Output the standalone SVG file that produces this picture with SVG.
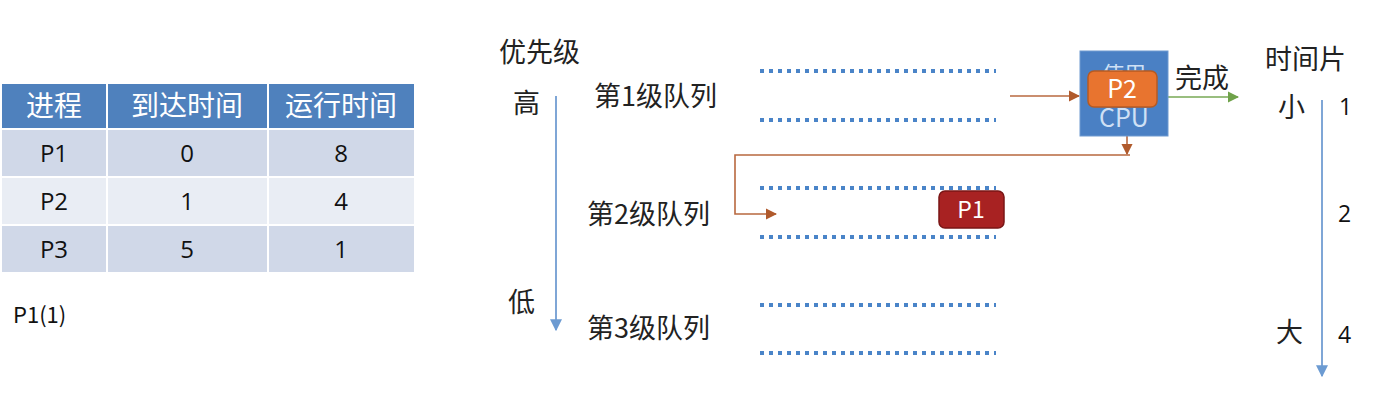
<svg xmlns="http://www.w3.org/2000/svg" width="1381" height="400" viewBox="0 0 1381 400">
<style>
text{font-family:"Noto Sans CJK SC","Liberation Sans",sans-serif;}
.hd{fill:#fff;font-size:28px;text-anchor:middle;}
.cell{fill:#111;font-size:24px;text-anchor:middle;font-family:"Open Sans","Liberation Sans",sans-serif;}
.lbl{fill:#222;font-size:27px;}
.num{fill:#111;font-size:23px;font-family:"Open Sans","Liberation Sans",sans-serif;}
.dot{stroke:#4A84C8;stroke-width:4;stroke-dasharray:4 5;fill:none;}
.axis{stroke:#7FA6D6;stroke-width:2;fill:none;}
.br{stroke:#B8683F;stroke-width:1.6;fill:none;}
</style>
<defs>
<marker id="ab" viewBox="0 0 10 10" refX="9" refY="5" markerWidth="6" markerHeight="6" orient="auto"><path d="M0,0L10,5L0,10z" fill="#6C9BD2"/></marker>
<marker id="ar" viewBox="0 0 10 10" refX="9" refY="5" markerWidth="7" markerHeight="7" orient="auto"><path d="M0,0L10,5L0,10z" fill="#B05A2C"/></marker>
<marker id="ag" viewBox="0 0 10 10" refX="9" refY="5" markerWidth="7" markerHeight="7" orient="auto"><path d="M0,0L10,5L0,10z" fill="#6FA24A"/></marker>
</defs>
<rect width="1381" height="400" fill="#fff"/>

<g id="table">
<rect x="2" y="84" width="104" height="44" fill="#4F81BD"/>
<rect x="108" y="84" width="159" height="44" fill="#4F81BD"/>
<rect x="269" y="84" width="145" height="44" fill="#4F81BD"/>
<rect x="2" y="130" width="104" height="46" fill="#D0D8E8"/>
<rect x="108" y="130" width="159" height="46" fill="#D0D8E8"/>
<rect x="269" y="130" width="145" height="46" fill="#D0D8E8"/>
<rect x="2" y="178" width="104" height="46" fill="#E9EDF4"/>
<rect x="108" y="178" width="159" height="46" fill="#E9EDF4"/>
<rect x="269" y="178" width="145" height="46" fill="#E9EDF4"/>
<rect x="2" y="226" width="104" height="46" fill="#D0D8E8"/>
<rect x="108" y="226" width="159" height="46" fill="#D0D8E8"/>
<rect x="269" y="226" width="145" height="46" fill="#D0D8E8"/>
<text class="hd" x="54" y="116">进程</text>
<text class="hd" x="187" y="116">到达时间</text>
<text class="hd" x="341" y="116">运行时间</text>
<text class="cell" x="54" y="162">P1</text>
<text class="cell" x="187" y="162">0</text>
<text class="cell" x="341" y="162">8</text>
<text class="cell" x="54" y="210">P2</text>
<text class="cell" x="187" y="210">1</text>
<text class="cell" x="341" y="210">4</text>
<text class="cell" x="54" y="258">P3</text>
<text class="cell" x="187" y="258">5</text>
<text class="cell" x="341" y="258">1</text>
</g>
<text x="13" y="323" font-size="22" fill="#111" font-family="Open Sans, Liberation Sans, sans-serif">P1(1)</text>

<g id="priority">
<text class="lbl" x="499" y="62">优先级</text>
<text class="lbl" x="513" y="113">高</text>
<text class="lbl" x="508" y="312">低</text>
</g>

<g id="queues">
<text class="lbl" x="594" y="106">第1级队列</text>
<text class="lbl" x="587" y="224">第2级队列</text>
<text class="lbl" x="587" y="338">第3级队列</text>
<line class="dot" x1="760" y1="71" x2="996" y2="71"/>
<line class="dot" x1="760" y1="120" x2="996" y2="120"/>
<line class="dot" x1="760" y1="188" x2="996" y2="188"/>
<line class="dot" x1="760" y1="237" x2="996" y2="237"/>
<line class="dot" x1="760" y1="305" x2="996" y2="305"/>
<line class="dot" x1="760" y1="353" x2="996" y2="353"/>
</g>

<g id="connectors">
<line class="axis" x1="556" y1="96" x2="556" y2="330" marker-end="url(#ab)"/>
<line class="axis" x1="1322" y1="100" x2="1322" y2="376" marker-end="url(#ab)"/>
<line class="br" x1="1010" y1="96" x2="1079" y2="96" marker-end="url(#ar)"/>
<line class="br" x1="1127" y1="136" x2="1127" y2="154" marker-end="url(#ar)"/>
<polyline class="br" points="1130,155 735,155 735,214 776,214" marker-end="url(#ar)"/>
<line x1="1168" y1="97" x2="1238" y2="97" stroke="#77A855" stroke-width="1.6" marker-end="url(#ag)"/>
</g>

<g id="p1">
<rect x="939" y="191" width="65" height="37" rx="6" fill="#A82222" stroke="#7A1616" stroke-width="1.5"/>
<text x="971" y="218" font-size="23" fill="#fff" text-anchor="middle" font-family="Open Sans, Liberation Sans, sans-serif">P1</text>
</g>

<g id="cpu">
<rect x="1080" y="51" width="88" height="85" fill="#4A80C4" stroke="#6E9AD0" stroke-width="1"/>
<text x="1124" y="82" font-size="22" fill="#CFE0F5" text-anchor="middle">使用</text>
<text x="1124" y="127" font-size="25" fill="#CFE0F5" text-anchor="middle" font-family="Open Sans, Liberation Sans, sans-serif">CPU</text>
</g>

<g id="p2">
<rect x="1088" y="71" width="69" height="36" rx="6" fill="#E8742F" stroke="#B65A22" stroke-width="1.5"/>
<text x="1122" y="98" font-size="25" fill="#fff" text-anchor="middle" font-family="Open Sans, Liberation Sans, sans-serif">P2</text>
</g>

<g id="done">
<text class="lbl" x="1175" y="88">完成</text>
</g>

<g id="timeslice">
<text class="lbl" x="1265" y="69">时间片</text>
<text class="lbl" x="1278" y="117">小</text>
<text class="lbl" x="1276" y="342">大</text>
<text class="num" x="1339" y="115">1</text>
<text class="num" x="1338" y="222">2</text>
<text class="num" x="1338" y="343">4</text>
</g>
</svg>
